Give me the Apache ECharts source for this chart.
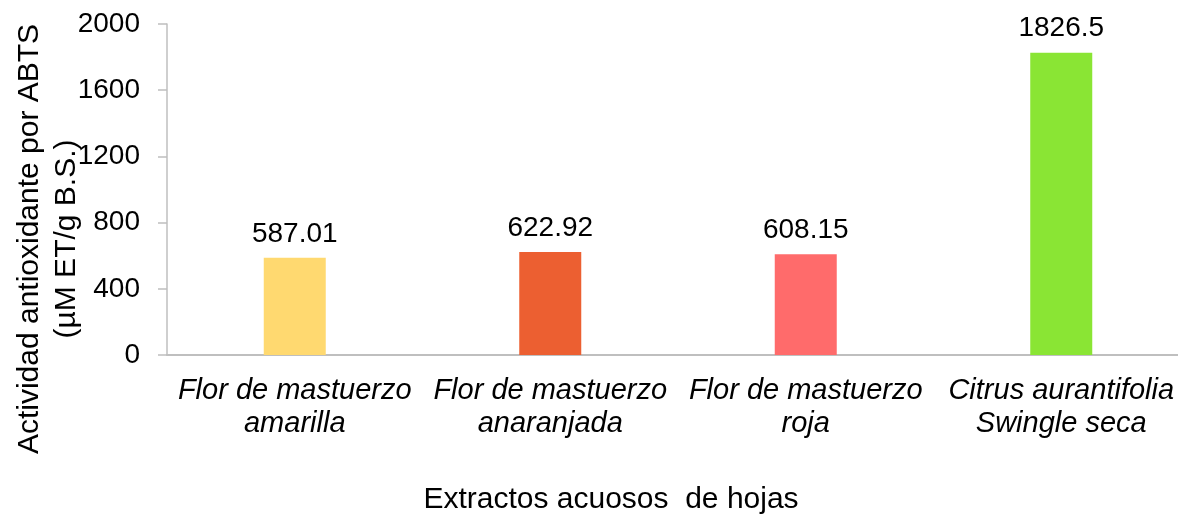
<!DOCTYPE html>
<html>
<head>
<meta charset="utf-8">
<script src="https://cdn.jsdelivr.net/npm/echarts@6/dist/echarts.min.js"></script>
<style>
  html, body { margin: 0; padding: 0; background: #fff; overflow: hidden; }
  #chart { width: 1189px; height: 515px; }
</style>
</head>
<body>
<div id="chart"></div>
<script>
// Extractos acuosos de hojas: actividad antioxidante (ABTS)
const categories = [
  'Flor de mastuerzo\namarilla',
  'Flor de mastuerzo\nanaranjada',
  'Flor de mastuerzo\nroja',
  'Citrus aurantifolia\nSwingle seca'
];
const values = [587.01, 622.92, 608.15, 1826.5];
const barColors = ['#FFD970', '#EC5F31', '#FF6B6B', '#8AE534'];
const yTicks = [0, 400, 800, 1200, 1600, 2000];

const FONT = '"Liberation Sans", Arial, sans-serif';

const chart = echarts.init(document.getElementById('chart'));
chart.setOption({
  animation: false,
  backgroundColor: '#ffffff',
  grid: { left: 167, right: 0, top: 24, bottom: 160, containLabel: false },
  xAxis: {
    type: 'category',
    data: categories,
    axisLine: { lineStyle: { color: '#bfbfbf', width: 2 } },
    axisTick: { show: false },
    axisLabel: {
      fontFamily: FONT, fontSize: 29, fontStyle: 'italic', color: '#000',
      lineHeight: 33, margin: 19, interval: 0
    }
  },
  yAxis: {
    type: 'value',
    min: yTicks[0],
    max: yTicks[yTicks.length - 1],
    interval: 400,
    axisLine: { show: true, lineStyle: { color: '#bfbfbf', width: 1.5 } },
    axisTick: { show: true, length: 9, lineStyle: { color: '#bfbfbf', width: 1.5 } },
    splitLine: { show: false },
    axisLabel: {
      fontFamily: FONT, fontSize: 28, color: '#000', margin: 27,
      formatter: v => String(v)
    }
  },
  series: [{
    type: 'bar',
    data: values.map((v, i) => ({ value: v, itemStyle: { color: barColors[i] } })),
    barWidth: 62,
    label: {
      show: true, position: 'top', distance: 10,
      fontFamily: FONT, fontSize: 28, color: '#000',
      formatter: p => String(values[p.dataIndex])
    }
  }],
  graphic: [
    {
      type: 'text', x: 611, y: 500,
      style: {
        text: 'Extractos acuosos  de hojas',
        font: '30px ' + FONT, fill: '#000',
        textAlign: 'center', textVerticalAlign: 'middle'
      }
    },
    {
      type: 'text', x: 48, y: 239, rotation: Math.PI / 2,
      style: {
        text: 'Actividad antioxidante por ABTS\n(µM ET/g B.S.)',
        font: '30px ' + FONT, fill: '#000', lineHeight: 37,
        textAlign: 'center', textVerticalAlign: 'middle'
      }
    }
  ]
});
</script>
</body>
</html>
